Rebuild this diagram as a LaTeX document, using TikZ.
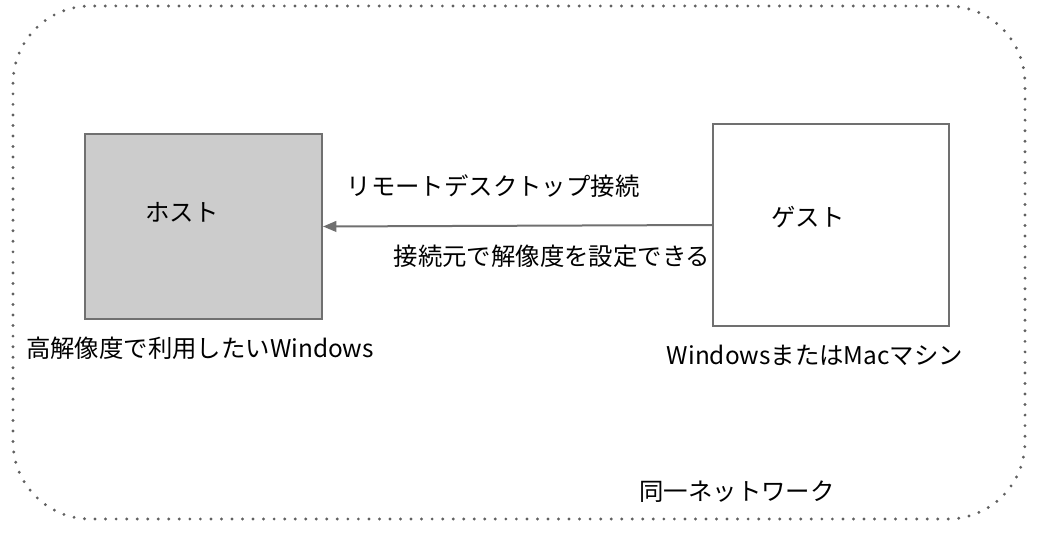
\documentclass[tikz,border=0pt]{standalone}
\usepackage{fontspec}
\setmainfont{Noto Sans CJK JP}
\usetikzlibrary{positioning,arrows.meta}
\definecolor{edgegray}{HTML}{707070}
\definecolor{hostfill}{HTML}{CCCCCC}
\definecolor{dotgray}{HTML}{606060}

\begin{document}
\begin{tikzpicture}[
    x=0.75pt,y=-0.75pt,
    every node/.style={font=\fontsize{18.3}{22}\selectfont,inner sep=0pt},
    machine/.style={draw=edgegray,line width=1.5pt},
    conn/.style={draw=edgegray,line width=1.5pt,-{Triangle[length=10pt,width=8pt]}},
    netzone/.style={draw=dotgray,line width=2.4pt,line cap=round,dash pattern=on 0pt off 7.9pt,rounded corners=58pt}
]
    \useasboundingbox (0,0) rectangle (1042,538);

    % Reseau commun
    \draw[netzone] (13,6) rectangle (1025,519);
    \node (net) at (737,492) {同一ネットワーク};

    % Hote
    \node[machine,fill=hostfill,minimum width=177.75pt,minimum height=138.75pt] (host) at (203.5,226.5) {};
    \node (hostlbl) at (182,212) {ホスト};
    \node (hostsub) at (200,348) {高解像度で利用したいWindows};

    % Invite
    \node[machine,fill=white,minimum width=177pt,minimum height=151.5pt] (guest) at (831,225) {};
    \node (guestlbl) at (808,217) {ゲスト};
    \node (guestsub) at (815,355) {WindowsまたはMacマシン};

    % Connexion
    \draw[conn] (guest.west) -- (host.east);
    \node (rdp) at (493,186) {リモートデスクトップ接続};
    \node (res) at (552,256) {接続元で解像度を設定できる};

\end{tikzpicture}
\end{document}
